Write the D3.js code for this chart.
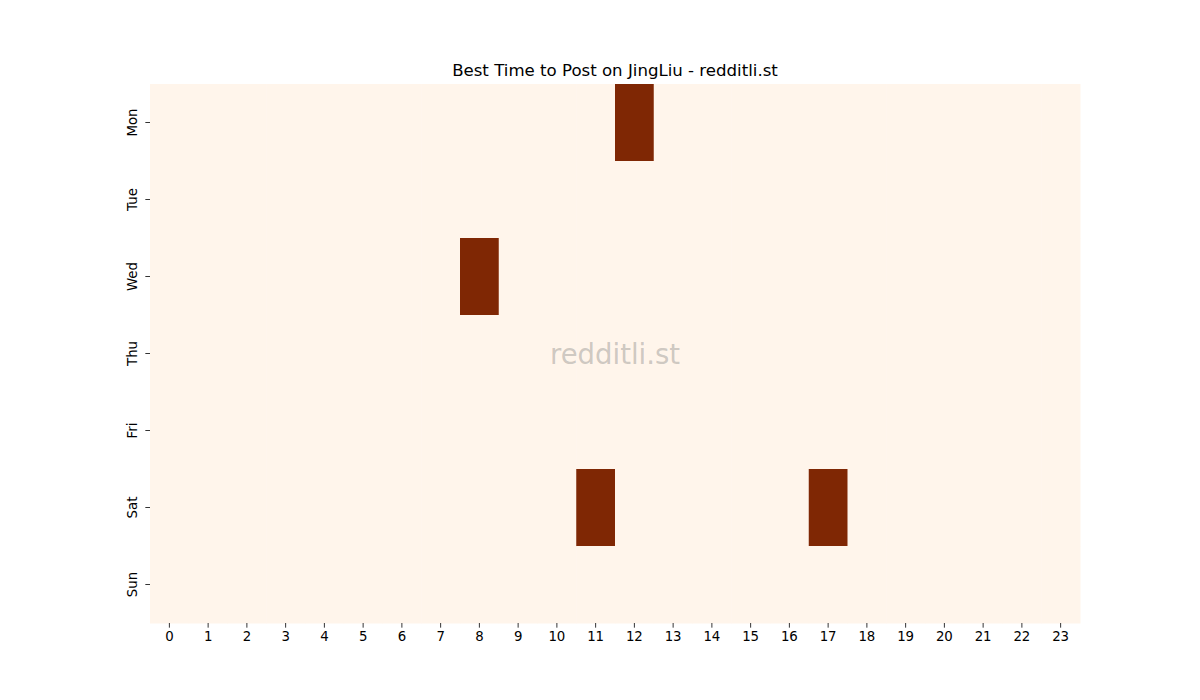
<!DOCTYPE html>
<html>
<head>
<meta charset="utf-8">
<script src="https://cdn.jsdelivr.net/npm/d3@7"></script>
<style>
html,body{margin:0;padding:0;background:#fff;}
svg{display:block;font-family:"DejaVu Sans",sans-serif;}
</style>
</head>
<body>
<svg id="chart" width="1200" height="700"></svg>
<script>
const days = ["Mon","Tue","Wed","Thu","Fri","Sat","Sun"];
const hours = ["0","1","2","3","4","5","6","7","8","9","10","11","12","13","14","15","16","17","18","19","20","21","22","23"];
// best posting slots: [day, hour, value]
const hotCells = [["Mon","12",1],["Wed","8",1],["Sat","11",1],["Sat","17",1]];
const titleText = "Best Time to Post on JingLiu - redditli.st";
const watermark = "redditli.st";

const cells = [];
days.forEach(d => hours.forEach(h => {
  const hit = hotCells.find(c => c[0] === d && c[1] === h);
  cells.push({day: d, hour: h, value: hit ? hit[2] : 0});
}));

const svg = d3.select("#chart");
const margin = {left:150, top:84, right:120, bottom:77};
const W = 1200 - margin.left - margin.right;
const H = 700 - margin.top - margin.bottom;
const g = svg.append("g").attr("transform", `translate(${margin.left},${margin.top})`);

const x = d3.scaleBand().domain(hours).range([0, W]).padding(0);
const y = d3.scaleBand().domain(days).range([0, H]).padding(0);
const lo = "#fff5eb", hi = "#7f2704";
const color = d3.scaleLinear().domain([0, 1]).range([lo, hi]);

g.selectAll("rect.cell").data(cells).enter().append("rect")
  .attr("class","cell")
  .attr("x", d => x(d.hour))
  .attr("y", d => y(d.day))
  .attr("width", x.bandwidth() + 0.5)
  .attr("height", y.bandwidth() + 0.5)
  .attr("fill", d => color(d.value));

const xAxis = g.append("g").attr("transform", `translate(0,${H})`)
  .call(d3.axisBottom(x).tickSize(4.67).tickPadding(4));
const yAxis = g.append("g")
  .call(d3.axisLeft(y).tickSize(4.67).tickPadding(4));
[xAxis, yAxis].forEach(a => {
  a.select(".domain").remove();
  a.selectAll(".tick line").attr("stroke","#000").attr("stroke-width",0.8);
  a.selectAll("text").attr("fill","#000").style("font-size","13.33px").style("font-family","DejaVu Sans");
});
yAxis.selectAll(".tick text")
  .attr("text-anchor","middle")
  .attr("x", null).attr("dy", null)
  .attr("transform","translate(-14,0) rotate(-90)")
  .attr("dominant-baseline","middle")
  .attr("y", -3);

svg.append("text")
  .attr("x", margin.left + W/2).attr("y", margin.top - 8)
  .attr("text-anchor","middle")
  .style("font-size","16.6px").attr("fill","#000")
  .text(titleText);

g.append("text")
  .attr("x", W/2).attr("y", H/2)
  .attr("text-anchor","middle").attr("dominant-baseline","central")
  .style("font-size","27.5px").attr("fill","#808080").attr("fill-opacity",0.4)
  .text(watermark);
</script>
</body>
</html>
